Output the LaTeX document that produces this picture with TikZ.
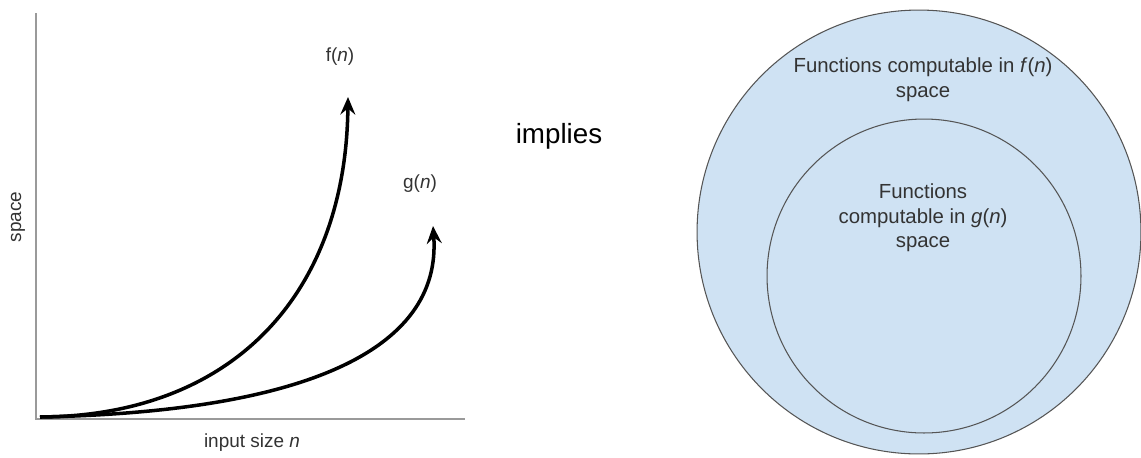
\documentclass[tikz,border=0pt]{standalone}
\usepackage{fontspec}
\setmainfont{Liberation Sans}
\usetikzlibrary{arrows.meta}
\definecolor{setblue}{HTML}{CFE2F3}
\definecolor{rimgray}{HTML}{555555}
\definecolor{axisgray}{HTML}{9A9A9A}
\definecolor{labelgray}{HTML}{333333}
\tikzset{
  growth/.style={line width=2pt, -{Stealth[length=10pt, width=8.5pt, inset=3.5pt]}},
  axis/.style={draw=axisgray, line width=0.7pt},
  setcircle/.style={circle, draw=rimgray, line width=0.6pt, fill=setblue, inner sep=0pt},
  graphlabel/.style={text=labelgray, font=\fontsize{10.8}{13}\selectfont},
  setlabel/.style={text=labelgray, align=center, font=\fontsize{11.6}{14}\selectfont}
}
\begin{document}
\begin{tikzpicture}[x=0.02cm, y=-0.02cm]
    \useasboundingbox (0,0) rectangle (1141,457);

    % Axes
    \coordinate (o) at (36,419);
    \coordinate (ytop) at (36,13);
    \coordinate (xend) at (465,419);
    \draw[axis] (ytop) -- (o) -- (xend);
    \node[graphlabel, rotate=90] (ylab) at (18,217) {space};
    \node[graphlabel] (xlab) at (252,443) {input size \textit{n}};

    % Growth curves
    \coordinate (start) at (40,417);
    \coordinate (ftip) at (348,97);
    \coordinate (gtip) at (433,226);
    \draw[growth] (start) .. controls (235,416) and (346,292) .. (ftip);
    \draw[growth] (start) .. controls (300,412) and (442,352) .. (gtip);
    \node[graphlabel] (flab) at (340,57) {f(\textit{n})};
    \node[graphlabel] (glab) at (420,184) {g(\textit{n})};

    % Implication
    \node[font=\fontsize{15.8}{18}\selectfont] (impl) at (559,136) {implies};

    % Nested sets
    \node[setcircle, minimum size=8.88cm] (outer) at (919,232) {};
    \node[setcircle, minimum size=6.28cm] (inner) at (924,276) {};
    \node[setlabel] (outerlab) at (923,80) {Functions computable in \textit{f}(\textit{n})\\space};
    \node[setlabel] (innerlab) at (923,218) {Functions\\computable in \textit{g}(\textit{n})\\space};
\end{tikzpicture}
\end{document}
